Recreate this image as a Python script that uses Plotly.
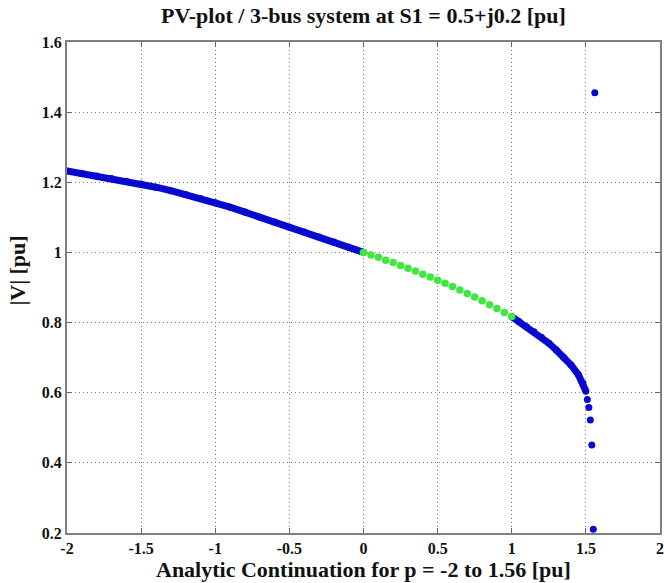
import plotly.graph_objects as go

# Upper branch, p from -2 to 0 (blue, dense)
p_left = [-2.0, -1.9, -1.8, -1.7, -1.6, -1.5, -1.4, -1.3, -1.2, -1.1, -1.0,
          -0.9, -0.8, -0.7, -0.6, -0.5, -0.4, -0.3, -0.2, -0.1, 0.0]
v_left = [1.232, 1.225, 1.218, 1.211, 1.203, 1.195, 1.186, 1.176, 1.165, 1.154, 1.142,
          1.129, 1.115, 1.101, 1.087, 1.072, 1.058, 1.044, 1.030, 1.015, 1.000]

# Green section, p from 0 to 1
p_green = [0.00, 0.05, 0.10, 0.15, 0.20, 0.25, 0.30, 0.35, 0.40, 0.45, 0.50,
           0.55, 0.60, 0.65, 0.70, 0.75, 0.80, 0.85, 0.90, 0.95, 1.00]
v_green = [1.000, 0.993, 0.986, 0.978, 0.971, 0.963, 0.955, 0.947, 0.938, 0.930, 0.921,
           0.912, 0.903, 0.893, 0.883, 0.873, 0.862, 0.851, 0.840, 0.829, 0.817]

# Blue section, p from 1 to 1.5
p_right = [1.00, 1.05, 1.10, 1.15, 1.20, 1.25, 1.30, 1.35, 1.40, 1.45, 1.48, 1.50]
v_right = [0.817, 0.802, 0.788, 0.774, 0.758, 0.741, 0.722, 0.701, 0.679, 0.651, 0.628, 0.604]

# Scattered tail points near the nose
p_tail = [1.51, 1.52, 1.53, 1.54, 1.55, 1.56]
v_tail = [0.581, 0.558, 0.522, 0.451, 0.211, 1.455]

x_ticks = [-2, -1.5, -1, -0.5, 0, 0.5, 1, 1.5, 2]
x_ticklabels = ["-2", "-1.5", "-1", "-0.5", "0", "0.5", "1", "1.5", "2"]
y_ticks = [0.2, 0.4, 0.6, 0.8, 1.0, 1.2, 1.4, 1.6]
y_ticklabels = ["0.2", "0.4", "0.6", "0.8", "1", "1.2", "1.4", "1.6"]

BLUE = "#0808d0"
GREEN = "#3ee83e"
FONT = "Liberation Serif"
TXT = "#111111"

fig = go.Figure()
fig.add_trace(go.Scatter(x=p_left, y=v_left, mode="lines+markers",
                         line=dict(color=BLUE, width=7),
                         marker=dict(color=BLUE, size=7), showlegend=False))
fig.add_trace(go.Scatter(x=p_right, y=v_right, mode="lines+markers",
                         line=dict(color=BLUE, width=7),
                         marker=dict(color=BLUE, size=7), showlegend=False))
fig.add_trace(go.Scatter(x=p_green, y=v_green, mode="markers",
                         marker=dict(color=GREEN, size=7.5), showlegend=False))
fig.add_trace(go.Scatter(x=p_tail, y=v_tail, mode="markers", cliponaxis=False,
                         marker=dict(color=BLUE, size=7), showlegend=False))

axis_common = dict(
    showline=True, linecolor="#808080", linewidth=2, mirror="ticks",
    showgrid=True, gridcolor="#777777", griddash="1px,3px", gridwidth=1,
    ticks="inside", ticklen=5, tickcolor="#666666", zeroline=False,
    automargin=False, ticklabeloverflow="allow",
    tickfont=dict(family=FONT, size=16, color=TXT),
)

fig.update_layout(
    width=664, height=583,
    margin=dict(l=67, r=4, t=42, b=50),
    paper_bgcolor="white", plot_bgcolor="white",
    font=dict(family=FONT, color=TXT),
    title=dict(text="<b>PV-plot / 3-bus system at S1 = 0.5+j0.2 [pu]</b>",
               x=0.5, xref="paper", xanchor="center",
               y=0.974, yref="container", yanchor="middle",
               font=dict(family=FONT, size=22, color=TXT)),
    xaxis=dict(range=[-2, 2], tickmode="array", tickvals=x_ticks,
               ticktext=["<b>%s</b>" % t for t in x_ticklabels], **axis_common),
    yaxis=dict(range=[0.2, 1.6], tickmode="array", tickvals=y_ticks,
               ticktext=["<b>%s</b>" % t for t in y_ticklabels], **axis_common),
    annotations=[
        dict(text="<b>Analytic Continuation for p = -2 to 1.56 [pu]</b>",
             xref="paper", yref="paper", x=0.5, y=-0.075,
             xanchor="center", yanchor="middle", showarrow=False,
             font=dict(family=FONT, size=22, color=TXT)),
        dict(text="<b>|V| [pu]</b>", textangle=-90,
             xref="paper", yref="paper", x=-0.083, y=0.534,
             xanchor="center", yanchor="middle", showarrow=False,
             font=dict(family=FONT, size=22, color=TXT)),
    ],
)

fig.write_html("out.html",
               config={"displayModeBar": False},
               post_script="document.body.style.margin='0';document.body.style.overflow='hidden';")
